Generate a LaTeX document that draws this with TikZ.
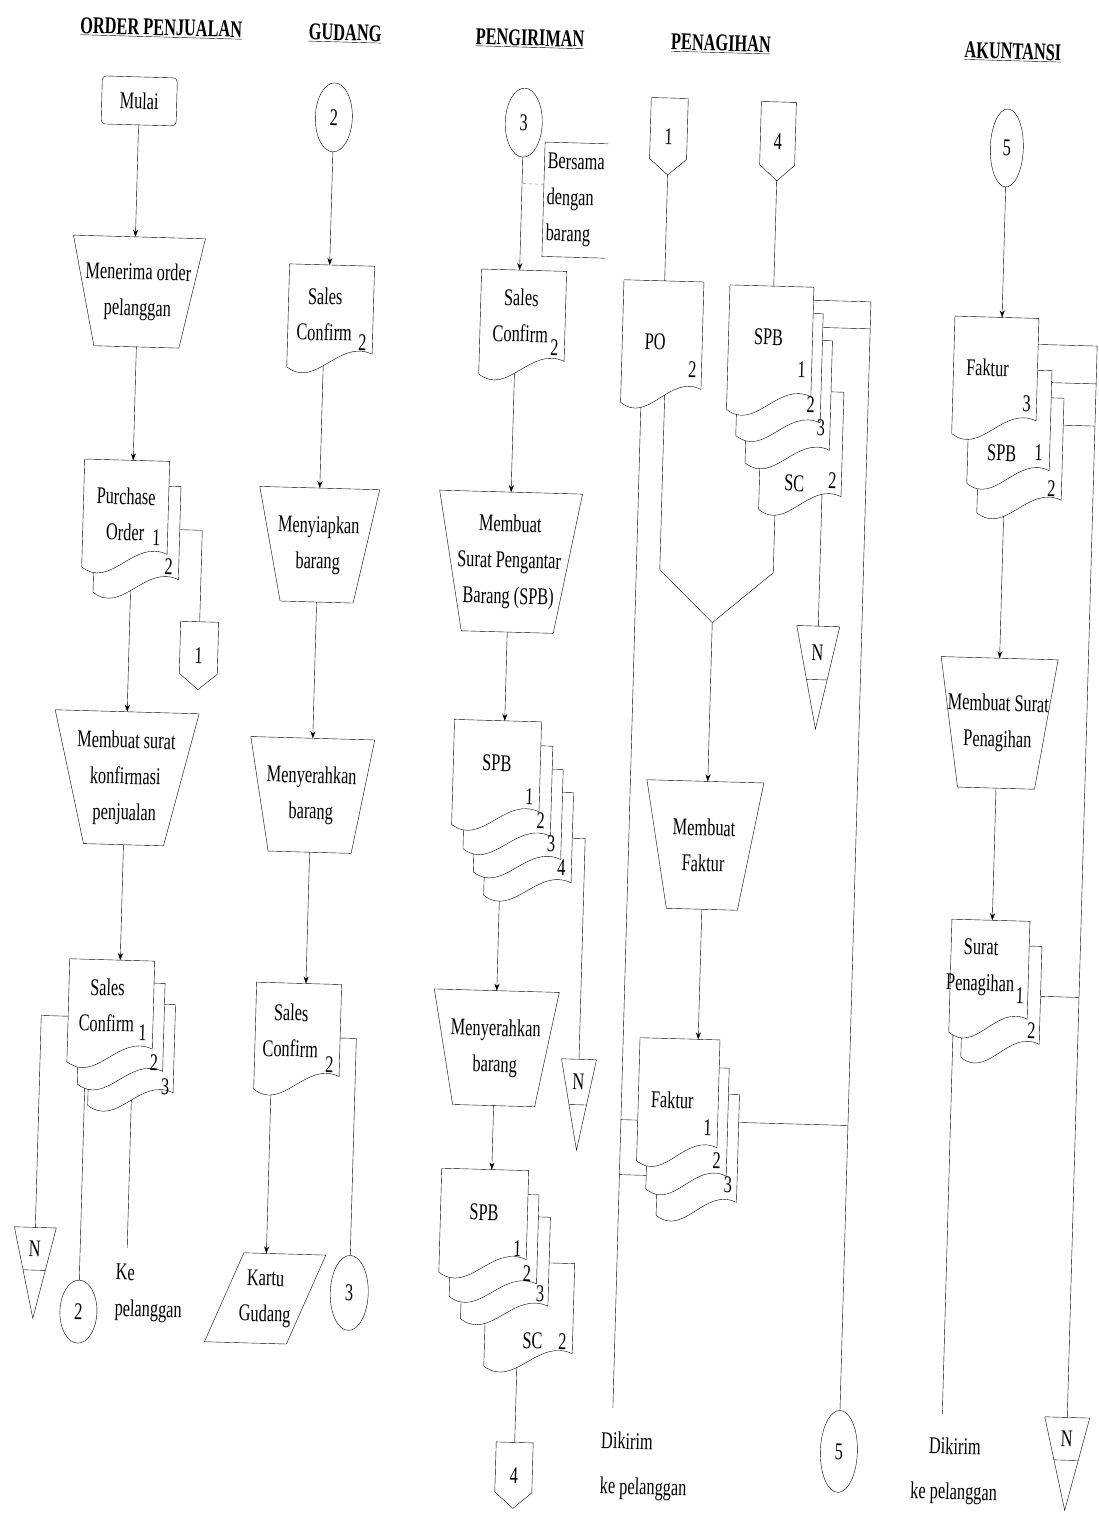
\documentclass[tikz,border=0pt]{standalone}
\usepackage{fontspec}
\setmainfont{Liberation Serif}[FakeStretch=0.68]
\usetikzlibrary{shapes.geometric,arrows.meta,calc,backgrounds}

% document with wavy bottom
\newcommand{\docu}[5]{%
  \node[docbox, minimum width=#4, minimum height=#5] (#1) at (#2,#3) {};
  \draw[fill=white] (#1.north west) -- (#1.north east) -- ($(#1.south east)+(0,-15)$)
    .. controls ($(#1.south west)!0.6!(#1.south east)+(0,-30)$)
    and ($(#1.south west)!0.35!(#1.south east)+(0,22)$) .. (#1.south west) -- cycle;
}
% manual operation
\newcommand{\manop}[7]{%
  \node[opbox, minimum width=#4, minimum height=#6] (#1) at (#2,#3) {#7};
  \draw (#1.north west) -- (#1.north east)
    -- ($(#1.south east)+({(#5-#4)/2},0)$) -- ($(#1.south west)+({(#4-#5)/2},0)$) -- cycle;
}
% off-page connector
\newcommand{\offpage}[6]{%
  \node[opbox, minimum width=#4, minimum height=#5] (#1) at (#2,#3) {#6};
  \draw (#1.north west) -- (#1.north east) -- ($(#1.south east)+(0,-16)$)
    -- (#1.south) -- ($(#1.south west)+(0,-16)$) -- cycle;
}
% file N
\newcommand{\nfile}[7]{%
  \node[opbox, minimum width=#4, minimum height=#5] (#1) at (#2,#3) {};
  \draw (#1.north west) -- (#1.north east) -- (#1.south) -- cycle;
  \draw ($(#1.north west)!#6!(#1.south)$) -- ($(#1.north east)!#6!(#1.south)$);
  \node[txt] (#1n) at ($(#1.north)!#7!(#1.south)$) {N};
}

\begin{document}
\begin{tikzpicture}[x=1pt, y=-1pt, line width=1.1pt, >={Stealth[length=7pt,width=5pt]},
  txt/.style={font=\fontsize{24}{36}\selectfont, inner sep=0pt, align=center},
  title/.style={txt, font=\fontsize{24}{36}\selectfont\bfseries},
  docbox/.style={inner sep=0pt, outer sep=0pt},
  opbox/.style={txt, outer sep=0pt},
  num/.style={txt},
  conn/.style={txt, ellipse, draw, minimum width=37, minimum height=69},
  note/.style={gray, line width=0.5pt, dashed}]

\useasboundingbox (0,0) rectangle (1098,1517);
\begin{pgfonlayer}{background}
  \fill[white] (0,0) rectangle (1098,1517);
\end{pgfonlayer}

\begin{scope}[rotate=-1.6, transform shape]

% headings
\node[title] (hd1) at (162,24) {\underline{ORDER PENJUALAN}};
\node[title] (hd2) at (346,24) {\underline{GUDANG}};
\node[title] (hd3) at (531,24) {\underline{PENGIRIMAN}};
\node[title] (hd4) at (722,24) {\underline{PENAGIHAN}};
\node[title] (hd5) at (1014,24) {\underline{AKUNTANSI}};

% order penjualan
\node[txt, draw, rounded corners=4pt, minimum width=75, minimum height=48] (mulai) at (142,97) {Mulai};
\manop{t1}{146}{288}{132}{85}{110}{Menerima order\\pelanggan}
\docu{po2}{152}{535.5}{85}{108}
\docu{po1}{140}{510.5}{85}{108}
\offpage{off1}{217}{650}{38}{68}{1}
\manop{t2}{147}{774.5}{144}{80}{133}{Membuat surat\\konfirmasi\\penjualan}
\docu{sc3}{161}{1051}{85}{103}
\docu{sc2}{150}{1030}{85}{103}
\docu{sc1}{139}{1008}{85}{103}
\nfile{n1}{69.6}{1271.5}{42}{91}{0.47}{0.24}
\node[conn, minimum height=63] (c2a) at (115,1309) {2};
\coordinate (kel) at (162,1244);
\node[txt, align=left, anchor=west] (kep) at (151,1289) {Ke\\pelanggan};

% gudang
\node[conn] (c2b) at (337,108) {2};
\docu{gsc1}{339.4}{307.2}{85}{103}
\manop{t3}{333.3}{536}{120}{73}{114}{Menyiapkan\\barang}
\manop{t4}{333.3}{786.3}{124}{83}{114}{Menyerahkan\\barang}
\docu{gsc2}{326.5}{1028.2}{85}{107}
\node[conn, minimum width=38, minimum height=75] (c3g) at (385.2,1282.7) {3};
\node[opbox, minimum width=82, minimum height=90] (kg) at (301.3,1290.6) {Kartu\\Gudang};
\draw ($(kg.north west)+(18.5,0)$) -- ($(kg.north east)+(18.5,0)$)
  -- ($(kg.south east)+(-18.5,0)$) -- ($(kg.south west)+(-18.5,0)$) -- cycle;

% pengiriman
\node[conn] (c3p) at (527,108) {3};
\node[txt, align=left, minimum width=63, minimum height=114] (ann) at (580.6,184) {Bersama\\dengan\\barang};
\draw (ann.north east) -- (ann.north west) -- (ann.south west) -- (ann.south east);
\coordinate (annl) at ($(ann.west)+(0,-15)$);
\docu{psc}{531.5}{308}{85}{105}
\manop{t5}{524.7}{547.7}{143}{92}{140}{Membuat\\Surat Pengantar\\Barang (SPB)}
\docu{spb4}{552}{829}{87}{105}
\docu{spb3}{541}{806}{87}{105}
\docu{spb2}{530}{783}{87}{105}
\docu{spb1}{518}{759}{87}{105}
\nfile{n2}{608.4}{1088.3}{35}{91}{0.5}{0.25}
\manop{t6}{524.3}{1034}{125}{82}{115}{Menyerahkan\\barang}
\docu{spsc}{565.8}{1299.7}{88}{105}
\docu{sps3}{540.7}{1253.5}{87}{104}
\docu{sps2}{528.7}{1231.5}{87}{104}
\docu{sps1}{517.7}{1207.5}{87}{104}
\offpage{off4}{554.8}{1460.6}{37}{66}{4}

% penagihan
\offpage{off1b}{672.3}{117.8}{37}{77}{1}
\offpage{off4b}{781.5}{119.7}{35}{79}{4}
\docu{po}{671.6}{323.5}{80}{122.5}
\docu{spbqsc}{813.6}{428.3}{82}{119.5}
\docu{spbq3}{799.7}{379.7}{84}{124.5}
\docu{spbq2}{789.7}{352.7}{84}{124.5}
\docu{spbq1}{779.7}{326.7}{84}{124.5}
\nfile{n3}{835.5}{654.6}{43}{103}{0.52}{0.26}
\coordinate (va) at (675.5,551);
\coordinate (vb) at (789,551);
\coordinate (vjoin) at (729.4,602.6);
\manop{mf}{727}{825.4}{117}{71}{128}{Membuat\\Faktur}
\docu{fk3}{729.8}{1135}{80}{123}
\docu{fk2}{718.8}{1109}{80}{123}
\docu{fk1}{708.8}{1081}{80}{123}
\node[conn, minimum height=82] (c5a) at (879.1,1427.5) {5};
\coordinate (dk1) at (652,1390);
\node[txt, align=left, anchor=west] (dkt1) at (641,1448) {Dikirim\\[9pt]ke pelanggan};
\coordinate (q1r) at ($(spbq1.north east)+(0,13)$);
\coordinate (q2r) at ($(spbq2.north east)+(0,14)$);
\coordinate (f3r) at ($(fk3.north east)+(0,28)$);
\coordinate (tk1) at ($(fk1.west)+(0,21)$);
\coordinate (tk2) at ($(fk2.west)+(0,48)$);

% akuntansi
\node[conn, minimum width=33, minimum height=78] (c5b) at (1010.6,119.8) {5};
\docu{fa3}{1032.8}{426.9}{84}{117}
\docu{fa2}{1021}{398.7}{82}{115}
\docu{fa1}{1005.5}{348.1}{84}{117.5}
\manop{t7}{1017.7}{695.1}{117}{77}{130}{Membuat Surat\\Penagihan}
\docu{sp2}{1029}{973.5}{78}{113}
\docu{sp1}{1016.3}{948.8}{78}{113}
\nfile{n4}{1106.5}{1433.7}{45}{93}{0.46}{0.23}
\coordinate (dk2) at (981.5,1387);
\node[txt] (dkt2) at (995,1444) {Dikirim\\[9pt]ke pelanggan};
\coordinate (a1r) at ($(fa1.north east)+(0,26)$);
\coordinate (a2r) at ($(fa2.north east)+(0,12)$);
\coordinate (a3r) at ($(fa3.north east)+(0,27)$);
\coordinate (s2r) at ($(sp2.north east)+(0,50)$);

% document texts
\node[txt] (po1t) at (po1) {Purchase\\Order};
\node[txt] (sc1t) at ($(sc1)+(-4,-6)$) {Sales\\Confirm};
\node[txt] (gsc1t) at ($(gsc1)+(-6,-2)$) {Sales\\Confirm};
\node[txt] (gsc2t) at ($(gsc2)+(-7,-6)$) {Sales\\Confirm};
\node[txt] (psct) at ($(psc)+(-2,-7)$) {Sales\\Confirm};
\node[txt] (spb1t) at ($(spb1)+(0,-10)$) {SPB};
\node[txt] (sps1t) at ($(sps1)+(0,-9)$) {SPB};
\node[txt] (pot) at ($(po)+(-7,0)$) {PO};
\node[txt] (spbq1t) at ($(spbq1)+(-2,-11)$) {SPB};
\node[txt] (fk1t) at ($(fk1)+(-6,0)$) {Faktur};
\node[txt] (fa1t) at ($(fa1)+(-8,-8)$) {Faktur};
\node[txt] (sp1t) at ($(sp1)+(-9,-9)$) {Surat\\Penagihan};

% copy numbers
\node[num] (po1n) at ($(po1.south east)+(-11,-31)$) {1};
\node[num] (po2n) at ($(po2.south east)+(-10,-28)$) {2};
\node[num] (sc1n) at ($(sc1.south east)+(-10,-31)$) {1};
\node[num] (sc2n) at ($(sc2.south east)+(-9,-23)$) {2};
\node[num] (sc3n) at ($(sc3.south east)+(-8,-21)$) {3};
\node[num] (gsc1n) at ($(gsc1.south east)+(-10,-26)$) {2};
\node[num] (gsc2n) at ($(gsc2.south east)+(-10,-27)$) {2};
\node[num] (pscn) at ($(psc.south east)+(-10,-28)$) {2};
\node[num] (spb1n) at ($(spb1.south east)+(-10,-30)$) {1};
\node[num] (spb2n) at ($(spb2.south east)+(-10,-30)$) {2};
\node[num] (spb3n) at ($(spb3.south east)+(-10,-30)$) {3};
\node[num] (spb4n) at ($(spb4.south east)+(-10,-30)$) {4};
\node[num] (sps1n) at ($(sps1.south east)+(-9,-26)$) {1};
\node[num] (sps2n) at ($(sps2.south east)+(-10,-25)$) {2};
\node[num] (sps3n) at ($(sps3.south east)+(-8,-27)$) {3};
\node[num] (spscl) at ($(spsc.south east)+(-40,-27)$) {SC};
\node[num] (spscn) at ($(spsc.south east)+(-10,-27)$) {2};
\node[num] (pon) at ($(po.south east)+(-9,-35)$) {2};
\node[num] (spbq1n) at ($(spbq1.south east)+(-10,-42)$) {1};
\node[num] (spbq2n) at ($(spbq2.south east)+(-10,-33)$) {2};
\node[num] (spbq3n) at ($(spbq3.south east)+(-9,-37)$) {3};
\node[num] (spbqscl) at ($(spbqsc.south east)+(-47,-27)$) {SC};
\node[num] (spbqscn) at ($(spbqsc.south east)+(-9,-31)$) {2};
\node[num] (fk1n) at ($(fk1.south east)+(-10,-35)$) {1};
\node[num] (fk2n) at ($(fk2.south east)+(-10,-30)$) {2};
\node[num] (fk3n) at ($(fk3.south east)+(-9,-32)$) {3};
\node[num] (fa1n) at ($(fa1.south east)+(-10,-32)$) {3};
\node[num] (fa2l) at ($(fa2.south east)+(-48,-31)$) {SPB};
\node[num] (fa2n) at ($(fa2.south east)+(-11,-33)$) {1};
\node[num] (fa3n) at ($(fa3.south east)+(-10,-26)$) {2};
\node[num] (sp1n) at ($(sp1.south east)+(-8,-38)$) {1};
\node[num] (sp2n) at ($(sp2.south east)+(-8,-28)$) {2};

% connectors
\begin{pgfonlayer}{background}
  \draw[->] (mulai.south) -- (mulai.south |- t1.north);
  \draw[->] (t1.south) -- (t1.south |- po1.north);
  \draw ($(po2.east)+(0,-11)$) -| (off1.north);
  \draw[->] (t2.north |- po2.center) -- (t2.north);
  \draw[->] (t2.south) -- (t2.south |- sc1.north);
  \draw ($(sc1.west)+(0,6)$) -| (n1.north);
  \draw (c2a.north |- sc2.center) -- (c2a.north);
  \draw (kel |- sc3.center) -- (kel);

  \draw[->] (c2b.south) -- (c2b.south |- gsc1.north);
  \draw[->] (t3.north |- gsc1.center) -- (t3.north);
  \draw[->] (t3.south) -- (t4.north);
  \draw[->] (t4.south) -- (t4.south |- gsc2.north);
  \draw (gsc2.east) -| (c3g.north);
  \draw[->] (kg.north |- gsc2.center) -- (kg.north);

  \draw[->] (c3p.south) -- (c3p.south |- psc.north);
  \draw[note] (annl) -- (annl -| c3p.south);
  \draw[->] (t5.north |- psc.center) -- (t5.north);
  \draw[->] (t5.south) -- (t5.south |- spb1.north);
  \draw ($(spb4.east)+(0,-7)$) -| (n2.north);
  \draw[->] (t6.north |- spb4.center) -- (t6.north);
  \draw[->] (t6.south) -- (t6.south |- sps1.north);
  \draw (off4.north |- spsc.center) -- (off4.north);

  \draw (off1b.south) -- (off1b.south |- po.north);
  \draw (off4b.south) -- (off4b.south |- spbq1.north);
  \draw (q1r) -| (c5a.north);
  \draw (q2r) -- (q2r -| c5a.north);
  \draw (dk1 |- po.center) -- (dk1);
  \draw (va |- po.center) -- (va) -- (vjoin);
  \draw (vb |- spbqsc.center) -- (vb) -- (vjoin);
  \draw[->] (vjoin) -- (vjoin |- mf.north);
  \draw (n3.north |- spbqsc.center) -- (n3.north);
  \draw[->] (mf.south) -- (mf.south |- fk1.north);
  \draw (f3r) -- (f3r -| c5a.north);
  \draw (tk1) -- (tk1 -| dk1);
  \draw (tk2) -- (tk2 -| dk1);

  \draw[->] (c5b.south) -- (c5b.south |- fa1.north);
  \draw (a1r) -| (n4.north);
  \draw (a2r) -- (a2r -| n4.north);
  \draw (a3r) -- (a3r -| n4.north);
  \draw[->] (t7.north |- fa3.center) -- (t7.north);
  \draw[->] (t7.south) -- (t7.south |- sp1.north);
  \draw (s2r) -- (s2r -| n4.north);
  \draw (dk2 |- sp1.center) -- (dk2);
\end{pgfonlayer}

\end{scope}
\end{tikzpicture}
\end{document}
